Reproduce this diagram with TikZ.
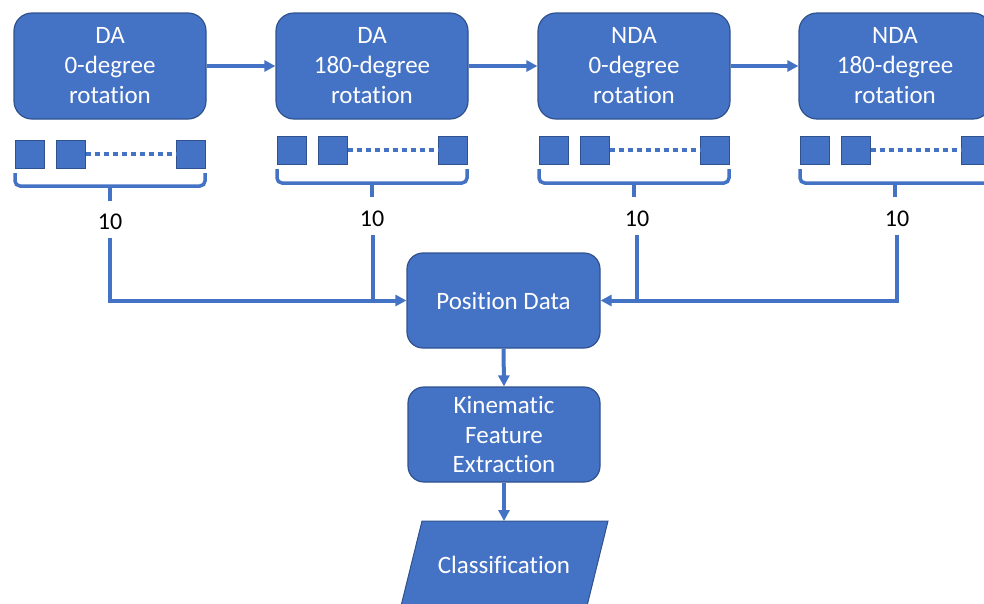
\documentclass[tikz,border=0pt]{standalone}
\usepackage{fontspec}
\setmainfont{Carlito}[Ligatures={NoCommon}]
\usetikzlibrary{arrows.meta}
\definecolor{boxblue}{HTML}{4472C4}
\definecolor{boxedge}{HTML}{2F528F}
\tikzset{
  stage/.style={draw=boxedge, line width=1.2pt, fill=boxblue, rounded corners=18pt,
    minimum width=192pt, minimum height=106pt, text=white, align=center,
    font=\fontsize{25pt}{30pt}\selectfont, inner sep=0pt},
  proc/.style={draw=boxedge, line width=1.2pt, fill=boxblue, rounded corners=16pt,
    minimum width=193pt, minimum height=95pt, text=white, align=center,
    font=\fontsize{25pt}{29.5pt}\selectfont, inner sep=0pt},
  trial/.style={draw=boxedge, line width=1pt, fill=boxblue, minimum width=29pt,
    minimum height=28pt, inner sep=0pt},
  conn/.style={draw=boxblue, line width=4pt},
  flow/.style={conn, -{Triangle[length=11pt,width=11pt]}},
  dots/.style={draw=boxblue, line width=3.5pt, dash pattern=on 5pt off 4pt},
  brace/.style={draw=boxblue, line width=3.5pt, rounded corners=5pt},
  count/.style={font=\fontsize{24pt}{28pt}\selectfont, inner sep=0pt, text=black},
}
\begin{document}
\begin{tikzpicture}[x=1pt,y=-1pt]
\useasboundingbox (0,0) rectangle (984,603);
\clip (0,0) rectangle (984,603);

% acquisition stages
\node[stage] (s1) at (110,66) {DA\\0-degree\\rotation};
\node[stage] (s2) at (372,66) {DA\\180-degree\\rotation};
\node[stage] (s3) at (634,66) {NDA\\0-degree\\rotation};
\node[stage] (s4) at (895,66) {NDA\\180-degree\\rotation};

\draw[flow] (s1.east) -- (s2.west);
\draw[flow] (s2.east) -- (s3.west);
\draw[flow] (s3.east) -- (s4.west);

% trial squares, dotted gaps and braces under each stage
\foreach \i/\x/\y/\b/\t in {1/14/154/186/201, 2/276/150/183/197, 3/538/150/183/197, 4/799/150/183/197}{
  \node[trial, anchor=west] (a\i) at (\x+0.5,\y) {};
  \node[trial, anchor=west] (b\i) at (\x+41.5,\y) {};
  \node[trial, anchor=west] (c\i) at (\x+162,\y) {};
  \draw[dots] (b\i.east) -- (c\i.west);
  \draw[brace] (\x+1,\y+19) -- (\x+1,\b) -- (\x+191,\b) -- (\x+191,\y+19);
  \draw[conn] (\x+96,\b) -- (\x+96,\t);
}

\node[count] (n1) at (110,222) {10};
\node[count] (n2) at (372,219) {10};
\node[count] (n3) at (637,219) {10};
\node[count] (n4) at (897,219) {10};

% feed lines from each group of trials
\coordinate (f1) at (110,238);
\coordinate (f2) at (373,235);
\coordinate (f3) at (637,235);
\coordinate (f4) at (897,235);
\coordinate (j2) at (373,301);
\coordinate (j3) at (637,301);

% processing chain
\node[proc] (pd) at (503.5,300.5) {Position Data};
\node[proc, minimum width=192pt] (kf) at (504,434.5) {Kinematic\\Feature\\Extraction};

\draw[flow] (f1) |- (pd.west);
\draw[conn] (f2) -- (j2);
\draw[conn] (f3) -- (j3);
\draw[flow] (f4) |- (pd.east);

\draw[flow] (pd.south) -- (kf.north);

% classification output
\coordinate (ctop) at (504,521);
\draw[draw=boxedge, line width=1pt, fill=boxblue]
  (422,521) -- (608,521) -- (586,610) -- (400,610) -- cycle;
\node[text=white, font=\fontsize{25pt}{30pt}\selectfont] (cl) at (504,565) {Classification};
\draw[flow] (kf.south) -- (ctop);
\end{tikzpicture}
\end{document}
